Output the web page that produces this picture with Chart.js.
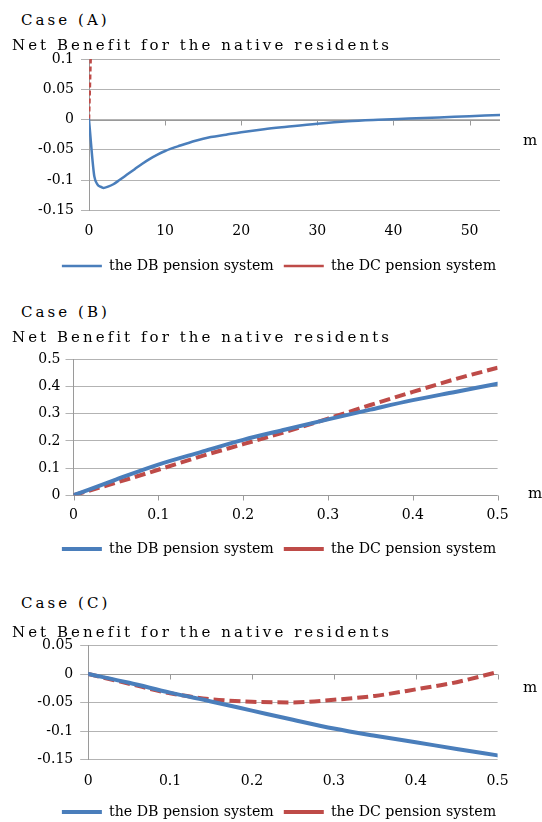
<!DOCTYPE html>
<html>
<head>
<meta charset="utf-8">
<script src="https://cdn.jsdelivr.net/npm/chart.js@4.4.1/dist/chart.umd.min.js"></script>
<style>
  html, body { margin: 0; padding: 0; background: #fff; overflow: hidden; }
  #wrap { position: relative; width: 542px; height: 822px; overflow: hidden; }
  .t { position: absolute; font-family: "DejaVu Serif", serif; font-size: 15px; line-height: 18px;
       letter-spacing: 3.05px; color: #000; white-space: nowrap; z-index: 2; }
  .m { position: absolute; font-family: "DejaVu Serif", serif; font-size: 15px; line-height: 18px; color: #000; z-index: 2; }
  .c { position: absolute; left: 0; width: 542px; z-index: 1; }
</style>
</head>
<body>
<div id="wrap">
  <div class="t" style="left:21px; top:11px;">Case (A)</div>
  <div class="t" style="left:12px; top:36px;">Net Benefit for the native residents</div>
  <div class="m" style="left:523px; top:131px;">m</div>
  <div class="c" style="top:40px; height:243px;"><canvas id="cA" width="542" height="243"></canvas></div>

  <div class="t" style="left:21px; top:303px;">Case (B)</div>
  <div class="t" style="left:12px; top:328px;">Net Benefit for the native residents</div>
  <div class="m" style="left:528px; top:484px;">m</div>
  <div class="c" style="top:335px; height:231px;"><canvas id="cB" width="542" height="231"></canvas></div>

  <div class="t" style="left:21px; top:594px;">Case (C)</div>
  <div class="t" style="left:12px; top:623px;">Net Benefit for the native residents</div>
  <div class="m" style="left:523px; top:678px;">m</div>
  <div class="c" style="top:630px; height:199px;"><canvas id="cC" width="542" height="199"></canvas></div>
</div>
<script>
// ---------------- data ----------------
const seriesNames = ['the DB pension system', 'the DC pension system'];

// Case (A)
const mA_DB = [0, 0.2, 0.45, 0.7, 1.1, 1.5, 1.9, 2.5, 3.2, 4, 5, 6, 7, 8, 9, 10, 12, 14, 16, 18, 20, 23, 26, 30, 34, 38, 42, 46, 50, 54];
const nbA_DB = [0, -0.03, -0.066, -0.094, -0.107, -0.111, -0.113, -0.111, -0.107, -0.1, -0.091, -0.082, -0.073, -0.065, -0.058, -0.052, -0.043, -0.035, -0.029, -0.025, -0.021, -0.016, -0.012, -0.007, -0.003, -0.0005, 0.0015, 0.0035, 0.0055, 0.0075];
const mA_DC = [0, 0.1, 0.2, 0.3];
const nbA_DC = [0, 0.045, 0.09, 0.135];
const yTicksA = [0.1, 0.05, 0, -0.05, -0.1, -0.15];
const xTicksA = [0, 10, 20, 30, 40, 50];

// Case (B)
const mB = [0, 0.05, 0.1, 0.15, 0.2, 0.25, 0.3, 0.35, 0.4, 0.45, 0.5];
const nbB_DB = [0, 0.058, 0.113, 0.159, 0.204, 0.242, 0.279, 0.315, 0.35, 0.38, 0.41];
const nbB_DC = [0, 0.046, 0.094, 0.143, 0.188, 0.233, 0.282, 0.332, 0.38, 0.427, 0.469];
const yTicksB = [0.5, 0.4, 0.3, 0.2, 0.1, 0];
const xTicksB = [0, 0.1, 0.2, 0.3, 0.4, 0.5];

// Case (C)
const mC = [0, 0.05, 0.1, 0.15, 0.2, 0.25, 0.3, 0.35, 0.4, 0.45, 0.5];
const nbC_DB = [0, -0.0154, -0.0326, -0.048, -0.064, -0.08, -0.0954, -0.108, -0.1194, -0.131, -0.1423];
const nbC_DC = [0, -0.017, -0.0337, -0.044, -0.0486, -0.0497, -0.045, -0.0383, -0.0269, -0.0143, 0.0034];
const yTicksC = [0.05, 0, -0.05, -0.1, -0.15];
const xTicksC = [0, 0.1, 0.2, 0.3, 0.4, 0.5];

// ---------------- styling ----------------
const BLUE = '#4A7EBB';
const RED = '#BE4B48';
const GRID = '#b3b3b3';
const AXIS = '#9a9a9a';
const FONT = 'DejaVu Serif';

const pts = (xs, ys) => xs.map((x, i) => ({ x, y: ys[i] }));
const fmt = v => String(Number(Number(v).toFixed(6)));

const zeroAxis = {
  id: 'zeroAxis',
  beforeDatasetsDraw(chart) {
    const { ctx, chartArea, scales } = chart;
    const xs = scales.x, ys = scales.y;
    const y0 = Math.round(ys.getPixelForValue(0)) + 0.5;
    ctx.save();
    ctx.strokeStyle = AXIS;
    ctx.lineWidth = 1;
    ctx.beginPath();
    ctx.moveTo(chartArea.left, y0);
    ctx.lineTo(chartArea.right, y0);
    xs.ticks.forEach(t => {
      const px = Math.round(xs.getPixelForValue(t.value)) + 0.5;
      ctx.moveTo(px, y0);
      ctx.lineTo(px, y0 + 5);
    });
    ctx.stroke();
    ctx.restore();
  }
};

function makeChart(id, cfg) {
  const datasets = [
    { label: seriesNames[0], data: cfg.db, borderColor: BLUE, backgroundColor: BLUE,
      borderWidth: cfg.lw, pointRadius: 0, cubicInterpolationMode: 'monotone', borderCapStyle: 'round' },
    { label: seriesNames[1], data: cfg.dc, borderColor: RED, backgroundColor: RED,
      borderWidth: cfg.lw, borderDash: cfg.dash, pointRadius: 0, cubicInterpolationMode: 'monotone' }
  ];
  return new Chart(document.getElementById(id), {
    type: 'line',
    data: { datasets },
    plugins: [zeroAxis],
    options: {
      responsive: false,
      animation: false,
      layout: { padding: { top: cfg.pt, left: 16, right: 0, bottom: 0 } },
      plugins: {
        tooltip: { enabled: false },
        legend: {
          position: 'bottom',
          labels: {
            usePointStyle: true, pointStyle: 'line', pointStyleWidth: 40,
            padding: 10, color: '#000',
            font: { family: FONT, size: 14.2 }
          }
        }
      },
      scales: {
        x: {
          type: 'linear', min: cfg.xmin, max: cfg.xmax,
          afterBuildTicks: s => { s.ticks = cfg.xticks.map(v => ({ value: v })); },
          afterFit: s => { s.height = cfg.hx; },
          grid: { display: false, drawTicks: false },
          border: { display: false },
          ticks: { padding: cfg.xpad, color: '#000', font: { family: FONT, size: 14 },
                   maxRotation: 0, autoSkip: false, callback: fmt }
        },
        y: {
          min: cfg.ymin, max: cfg.ymax,
          afterBuildTicks: s => { s.ticks = cfg.yticks.map(v => ({ value: v })); },
          afterFit: s => { s.width = cfg.yw; },
          grid: { color: GRID, lineWidth: 1, drawTicks: true, tickLength: 8, tickColor: GRID },
          border: { display: true, color: AXIS, width: 1 },
          ticks: { padding: cfg.ypad, color: '#000', font: { family: FONT, size: 14 }, autoSkip: false, callback: fmt }
        },
        yR: {
          type: 'linear', position: 'right', display: true,
          grid: { display: false, drawTicks: false },
          border: { display: false },
          ticks: { display: false },
          afterFit: s => { s.width = cfg.rw; }
        }
      }
    }
  });
}

makeChart('cA', {
  db: pts(mA_DB, nbA_DB), dc: pts(mA_DC, nbA_DC), lw: 2.5, dash: [5, 3],
  xmin: 0, xmax: 54, ymin: -0.15, ymax: 0.1, xticks: xTicksA, yticks: yTicksA,
  pt: 19, yw: 73, rw: 42, hx: 38.5, xpad: 13, ypad: 7
});
makeChart('cB', {
  db: pts(mB, nbB_DB), dc: pts(mB, nbB_DC), lw: 4, dash: [11, 5],
  xmin: 0, xmax: 0.5, ymin: 0, ymax: 0.5, xticks: xTicksB, yticks: yTicksB,
  pt: 24.3, yw: 57.5, rw: 44.4, hx: 36.5, xpad: 12, ypad: 5
});
makeChart('cC', {
  db: pts(mC, nbC_DB), dc: pts(mC, nbC_DC), lw: 4, dash: [11, 5],
  xmin: 0, xmax: 0.5, ymin: -0.15, ymax: 0.05, xticks: xTicksC, yticks: yTicksC,
  pt: 13.3, yw: 72.2, rw: 44.4, hx: 35, xpad: 13, ypad: 7
});
</script>
</body>
</html>
